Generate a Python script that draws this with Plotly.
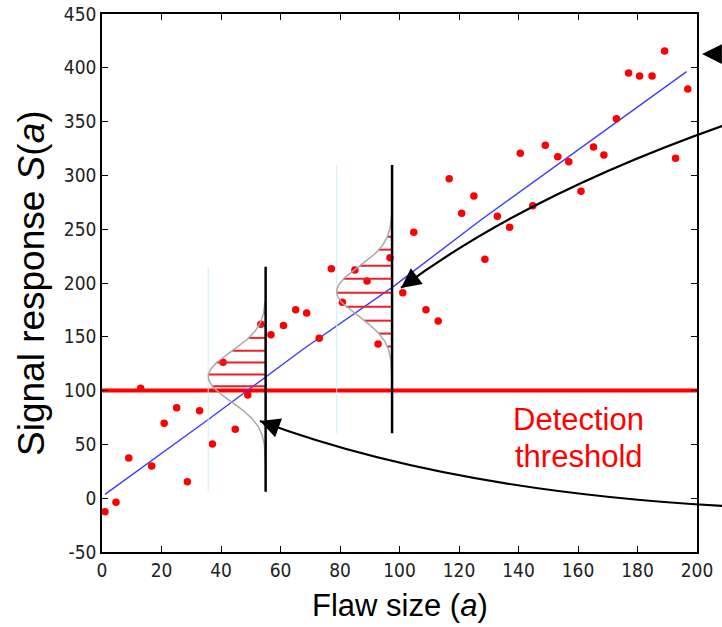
import numpy as np
import plotly.graph_objects as go

# ---------------- data ----------------
flaw_size = [1.0, 4.7, 9.0, 13.0, 16.7, 20.9, 25.1, 28.7, 32.8, 37.1,
             40.7, 44.8, 49.0, 53.4, 56.8, 61.0, 65.1, 68.8, 73.0, 77.1,
             80.8, 85.0, 89.1, 92.8, 96.8, 101.1, 104.8, 108.9, 113.0, 116.7,
             120.9, 125.0, 128.7, 132.9, 137.0, 140.6, 144.8, 149.0, 153.2, 156.9,
             161.0, 165.2, 168.7, 172.9, 177.0, 180.7, 184.9, 189.1, 192.8, 196.9]
signal = [-12.5, -3.8, 37.4, 102.1, 29.9, 69.6, 84.1, 15.3, 81.3, 50.4,
          126.3, 64.0, 95.9, 161.6, 152.0, 160.5, 175.2, 172.2, 148.6, 213.3,
          182.1, 212.1, 201.9, 143.3, 223.5, 191.0, 247.1, 175.2, 164.7, 296.9,
          264.8, 280.9, 222.0, 262.0, 251.8, 320.5, 271.8, 328.0, 317.4, 312.7,
          285.2, 326.4, 319.0, 352.7, 395.2, 392.4, 392.4, 415.6, 315.9, 380.3]

fit_a = [1.0, 36.3, 67.7, 97.9, 127.0, 183.0, 196.5]
fit_S = [3.6, 74.3, 138.7, 196.6, 257.9, 370.0, 396.4]

threshold = 100

# illustrative response distributions at two flaw sizes
pdf_flaw = [55.0, 97.5]
pdf_peak_a = [35.7, 78.9]    # left extent of each bell (flaw-size units)
pdf_mean = [113.0, 192.0]
pdf_sigma = [23.0, 23.0]
pdf_lo = [-82.0, -82.0]      # extent below mean
pdf_hi = [70.0, 72.0]        # extent above mean
pdf_bar_lo = [6.0, 60.3]     # vertical line extent
pdf_bar_hi = [215.1, 309.7]
hatch_levels = [[104, 115, 126, 137, 149, 160, 172],
                [141, 153, 165, 178, 191, 204, 216, 231, 243, 259]]

xticks = list(range(0, 201, 20))
yticks = list(range(-50, 451, 50))

XR = [0, 200]
YR = [-50, 450]
W, H = 722, 627
ML, MR, MT, MB = 102, 25, 14, 75

fig = go.Figure()

# threshold line
fig.add_trace(go.Scatter(x=XR, y=[threshold, threshold], mode="lines",
                         line=dict(color="#ff0000", width=4), hoverinfo="skip"))
# fitted line
fig.add_trace(go.Scatter(x=fit_a, y=fit_S, mode="lines",
                         line=dict(color="#3c3cff", width=1.4), hoverinfo="skip"))
# data
fig.add_trace(go.Scatter(x=flaw_size, y=signal, mode="markers",
                         marker=dict(color="#ff0000", size=7.5, line=dict(width=0))))

for k in range(2):
    c, mu, sd = pdf_flaw[k], pdf_mean[k], pdf_sigma[k]
    h = c - pdf_peak_a[k]
    # light cyan guide line at peak extent
    fig.add_trace(go.Scatter(x=[pdf_peak_a[k], pdf_peak_a[k]], y=[pdf_bar_lo[k], pdf_bar_hi[k]],
                             mode="lines", line=dict(color="#cdeff8", width=1), hoverinfo="skip"))
    # hatch lines
    hx, hy = [], []
    for L in hatch_levels[k]:
        hx += [c - h * np.exp(-(L - mu) ** 2 / (2 * sd ** 2)), c, None]
        hy += [L, L, None]
    fig.add_trace(go.Scatter(x=hx, y=hy, mode="lines",
                             line=dict(color="#e8202a", width=2), hoverinfo="skip"))
    # bell curve
    s = np.linspace(mu + pdf_lo[k], mu + pdf_hi[k], 120)
    fig.add_trace(go.Scatter(x=c - h * np.exp(-(s - mu) ** 2 / (2 * sd ** 2)), y=s, mode="lines",
                             line=dict(color="#a8a8a8", width=1.5), hoverinfo="skip"))
    # vertical black line
    fig.add_trace(go.Scatter(x=[c, c], y=[pdf_bar_lo[k], pdf_bar_hi[k]], mode="lines",
                             line=dict(color="black", width=2.5), hoverinfo="skip"))


def px(a):
    return (a - XR[0]) / (XR[1] - XR[0])


def py(s):
    return (s - YR[0]) / (YR[1] - YR[0])


# curved arrows (data units, may lie beyond the axes)
arrow_paths = [
    [(221.2, 357.3), (208.4, 345.9), (142.0, 280.9), (100.5, 195.4)],
    [(221.2, -9.3), (208.4, -7.2), (115.1, 7.4), (53.1, 71.7)],
]
shapes = []
for p in arrow_paths:
    (x0, y0), (x1, y1), (xc, yc), (x2, y2) = p
    path = (f"M {px(x0)},{py(y0)} L {px(x1)},{py(y1)} "
            f"Q {px(xc)},{py(yc)} {px(x2)},{py(y2)}")
    shapes.append(dict(type="path", xref="paper", yref="paper", path=path,
                       line=dict(color="black", width=2.2)))

annotations = []
# arrowheads
heads = [((201.7, 412.8), (70, 0)), ((100.5, 195.4), (16, -12)), ((53.1, 71.7), (19, 7))]
for (a, s), (ax, ay) in heads:
    annotations.append(dict(x=px(a), y=py(s), xref="paper", yref="paper", text="",
                            showarrow=True, arrowhead=2, arrowsize=1.8, arrowwidth=2.2,
                            arrowcolor="black", ax=ax, ay=ay, standoff=0))

text_font = "Liberation Sans, Arial, sans-serif"
annotations.append(dict(x=160.3, y=72.7, xref="x", yref="y", text="Detection",
                        showarrow=False, font=dict(family=text_font, size=31, color="#ff0000")))
annotations.append(dict(x=160.3, y=39.2, xref="x", yref="y", text="threshold",
                        showarrow=False, font=dict(family=text_font, size=31, color="#ff0000")))
annotations.append(dict(x=0.5, y=(552 - 605) / 538, xref="paper", yref="paper",
                        xanchor="center", yanchor="middle",
                        text="Flaw size (<i>a</i>)", showarrow=False,
                        font=dict(family=text_font, size=31, color="black")))
annotations.append(dict(x=(31 - 102) / 595, y=0.5, xref="paper", yref="paper",
                        xanchor="center", yanchor="middle",
                        text="Signal response <i>S</i>(<i>a</i>)", showarrow=False, textangle=-90,
                        font=dict(family=text_font, size=37, color="black")))

tick_font = dict(family="Liberation Sans Narrow, Arial Narrow, DejaVu Sans Condensed, sans-serif",
                 size=19, color="#222222")
axis_common = dict(showline=True, linecolor="black", linewidth=1.5, mirror="ticks",
                   ticks="inside", ticklen=6, tickwidth=1.3, tickcolor="black",
                   showgrid=False, zeroline=False, tickfont=tick_font, automargin=False)

fig.update_layout(
    template="none",
    width=W, height=H,
    margin=dict(l=ML, r=MR, t=MT, b=MB, autoexpand=False),
    paper_bgcolor="white", plot_bgcolor="white",
    showlegend=False,
    xaxis=dict(range=XR, tickvals=xticks, ticktext=[str(t) for t in xticks], **axis_common),
    yaxis=dict(range=YR, tickvals=yticks, ticktext=[str(t) for t in yticks], **axis_common),
    shapes=shapes,
    annotations=annotations,
)

fig.write_html(
    "out.html",
    config={"displayModeBar": False},
    post_script="document.body.style.margin='0';document.body.style.padding='0';"
                "document.documentElement.style.overflow='hidden';",
)
